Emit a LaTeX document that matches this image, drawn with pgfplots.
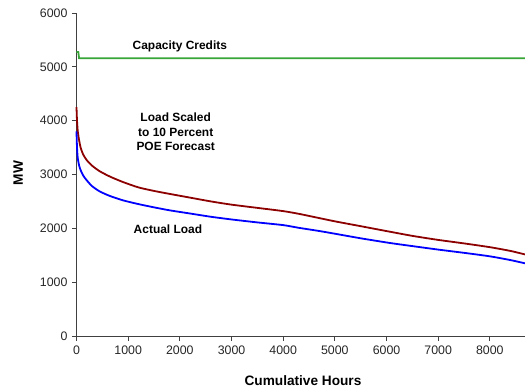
\documentclass[border=0pt]{standalone}
\usepackage{pgfplots}
\pgfplotsset{compat=1.18}
\usepackage{fontspec}
\setmainfont{Liberation Sans}

\definecolor{capgreen}{RGB}{55,165,55}
\definecolor{poered}{RGB}{140,0,0}
\definecolor{actblue}{RGB}{0,0,255}
\definecolor{axgray}{RGB}{64,64,64}

% Load duration curves (hours sorted by descending load)
\pgfplotstableread{
h    mw
0    4250
10   4000
25   3800
50   3640
80   3500
130  3370
200  3265
300  3165
450  3060
650  2960
900  2860
1200 2760
1500 2695
1800 2640
2200 2570
2600 2500
3000 2440
3500 2380
4000 2320
4300 2270
4700 2190
5000 2130
5500 2040
6050 1940
6500 1860
7000 1785
7500 1720
8000 1650
8400 1580
8680 1515
}\poeload

\pgfplotstableread{
h    mw
0    3800
10   3500
25   3300
50   3170
80   3080
130  2980
200  2890
300  2785
450  2685
650  2600
900  2520
1200 2450
1500 2390
1800 2335
2200 2275
2600 2215
3000 2165
3500 2110
4000 2060
4300 2010
4700 1950
5000 1900
5500 1815
6050 1730
6500 1670
7000 1605
7500 1545
8000 1480
8400 1410
8680 1350
}\actualload

\pgfplotstableread{
h    mw
0    5275
35   5275
50   5160
8680 5160
}\capcredits

\begin{document}
\begin{tikzpicture}
\begin{axis}[
  scale only axis,
  width=448.5bp, height=323bp,
  xmin=0, xmax=8680, ymin=0, ymax=6000,
  axis lines*=left,
  axis line style={axgray, line width=0.8bp},
  xtick={0,1000,...,8000},
  ytick={0,1000,...,6000},
  tick align=outside,
  major tick length=4.5bp,
  tick style={axgray, line width=0.8bp},
  /pgf/number format/assume math mode=true,
  /pgf/number format/1000 sep={},
  ticklabel style={font=\fontsize{12.4}{13}\selectfont, text=black!85},
  xticklabel style={yshift=-2bp},
  yticklabel style={xshift=-1bp},
  xlabel={\textbf{Cumulative Hours}},
  ylabel={\textbf{MW}},
  label style={font=\fontsize{13.7}{14}\selectfont},
  xlabel style={at={(axis description cs:0.505,-0.139)}, anchor=center},
  ylabel style={at={(axis description cs:-0.13,0.505)}, anchor=center},
  clip=false,
]
\addplot[capgreen, line width=1.8bp] table[x=h, y=mw] {\capcredits};
\addplot[poered, line width=1.8bp, smooth, tension=0.4] table[x=h, y=mw] {\poeload};
\addplot[actblue, line width=1.8bp, smooth, tension=0.4] table[x=h, y=mw] {\actualload};

\node[font=\fontsize{12}{12}\selectfont\bfseries] at (axis cs:2000,5372) {Capacity Credits};
\node[font=\fontsize{12}{14.5}\selectfont\bfseries, align=center] at (axis cs:1920,3790)
  {Load Scaled\\to 10 Percent\\POE Forecast};
\node[font=\fontsize{12}{12}\selectfont\bfseries] at (axis cs:1770,1990) {Actual Load};
\end{axis}
\pgfresetboundingbox
\path (-76.5bp,-56bp) rectangle (448.5bp,336bp);
\end{tikzpicture}
\end{document}
